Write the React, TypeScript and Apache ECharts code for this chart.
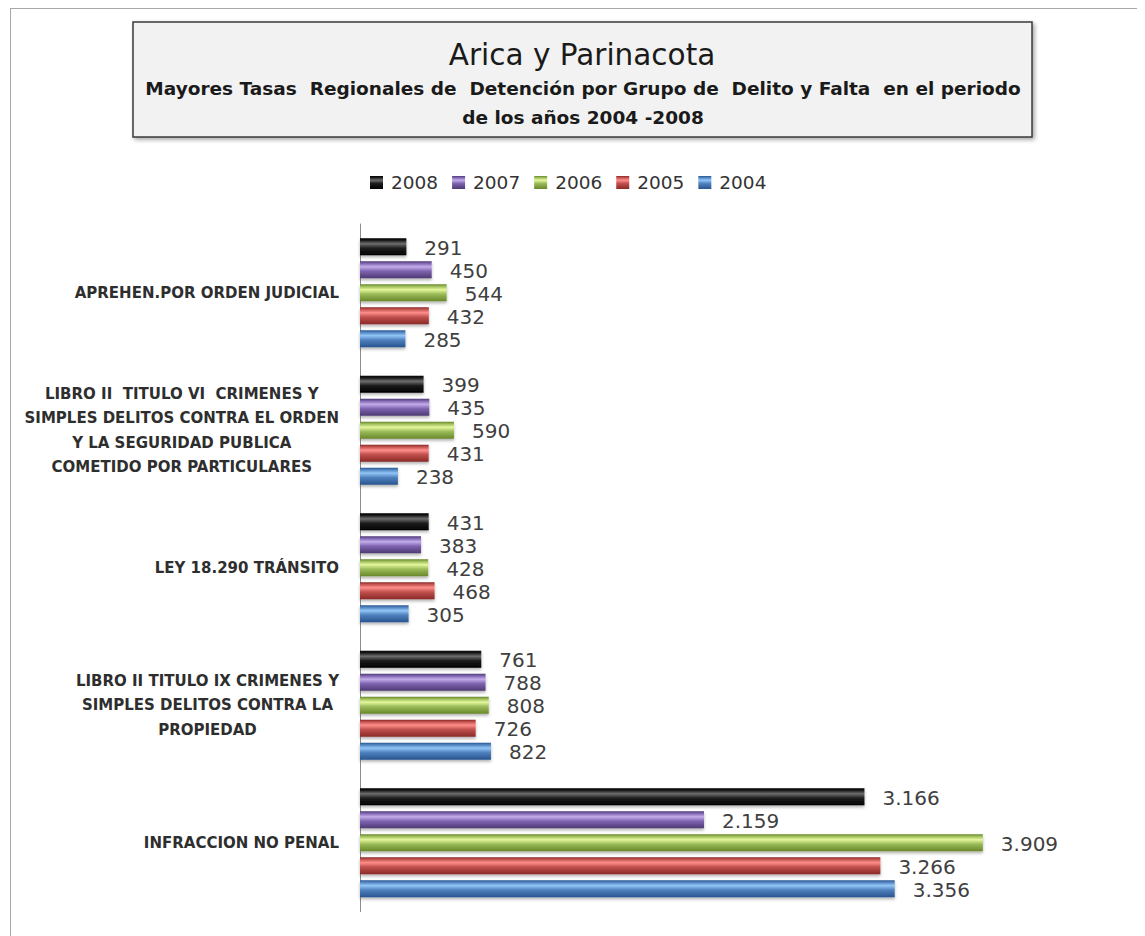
import React, { useEffect, useRef } from "react";
import * as echarts from "echarts";

const categories = [
  "APREHEN.POR ORDEN JUDICIAL",
  "LIBRO II  TITULO VI  CRIMENES Y\nSIMPLES DELITOS CONTRA EL ORDEN\nY LA SEGURIDAD PUBLICA\nCOMETIDO POR PARTICULARES",
  "LEY 18.290 TRÁNSITO",
  "LIBRO II TITULO IX CRIMENES Y\nSIMPLES DELITOS CONTRA LA\nPROPIEDAD",
  "INFRACCION NO PENAL",
];
const years = ["2008", "2007", "2006", "2005", "2004"];
const v2008 = [291, 399, 431, 761, 3166];
const v2007 = [450, 435, 383, 788, 2159];
const v2006 = [544, 590, 428, 808, 3909];
const v2005 = [432, 431, 468, 726, 3266];
const v2004 = [285, 238, 305, 822, 3356];
const values = [v2008, v2007, v2006, v2005, v2004];

const palette = [
  { dark: "#000000", base: "#1c1c1c", light: "#6e6e6e" },
  { dark: "#4d3a72", base: "#7f63b0", light: "#c3adea" },
  { dark: "#67872a", base: "#9bbb59", light: "#e4f79c" },
  { dark: "#892927", base: "#c0504d", light: "#ff8e8a" },
  { dark: "#295590", base: "#4f81bd", light: "#92c6f7" },
];

const titleMain = "Arica y Parinacota";
const titleSub1 = "Mayores Tasas  Regionales de  Detención por Grupo de  Delito y Falta  en el periodo";
const titleSub2 = "de los años 2004 -2008";

function fmt(v: number) {
  return String(v).replace(/\B(?=(\d{3})+(?!\d))/g, ".");
}

function grad(c: { dark: string; base: string; light: string }) {
  return new echarts.graphic.LinearGradient(0, 0, 0, 1, [
    { offset: 0, color: c.dark },
    { offset: 0.12, color: c.base },
    { offset: 0.32, color: c.light },
    { offset: 0.58, color: c.base },
    { offset: 1, color: c.dark },
  ]);
}

export default function App() {
  const ref = useRef<HTMLDivElement>(null);
  useEffect(() => {
    document.body.style.overflow = "hidden";
    const chart = echarts.init(ref.current!, null, { renderer: "svg" });
    const option: any = {
      animation: false,
      backgroundColor: "#ffffff",
      graphic: [
        {
          type: "rect",
          shape: { x: 122, y: 13, width: 899, height: 115 },
          style: {
            fill: "#f2f2f2",
            stroke: "#3a3a3a",
            lineWidth: 1.5,
            shadowBlur: 4,
            shadowOffsetX: 2,
            shadowOffsetY: 2,
            shadowColor: "rgba(0,0,0,0.35)",
          },
          z: 0,
        },
        {
          type: "text",
          x: 571,
          y: 46,
          style: {
            text: titleMain,
            textAlign: "center",
            textVerticalAlign: "middle",
            fontFamily: "DejaVu Sans",
            fontSize: 29.5,
            fill: "#1a1a1a",
          },
          z: 2,
        },
        {
          type: "text",
          x: 572,
          y: 79,
          style: {
            text: titleSub1,
            textAlign: "center",
            textVerticalAlign: "middle",
            fontFamily: "DejaVu Sans",
            fontWeight: "bold",
            fontSize: 18.5,
            fill: "#1a1a1a",
          },
          z: 2,
        },
        {
          type: "text",
          x: 572,
          y: 108,
          style: {
            text: titleSub2,
            textAlign: "center",
            textVerticalAlign: "middle",
            fontFamily: "DejaVu Sans",
            fontWeight: "bold",
            fontSize: 18.5,
            fill: "#1a1a1a",
          },
          z: 2,
        },
      ],
      legend: {
        data: years,
        left: 354,
        top: 159,
        icon: "rect",
        itemWidth: 13,
        itemHeight: 13,
        itemGap: 14,
        textStyle: { fontFamily: "DejaVu Sans", fontSize: 18.5, color: "#333333", padding: [0, 0, 0, 3] },
      },
      grid: { left: 349, top: 215, height: 687.5, width: 717, containLabel: false },
      xAxis: {
        type: "value",
        min: 0,
        max: 4500,
        show: false,
        splitLine: { show: false },
      },
      yAxis: {
        type: "category",
        data: categories,
        inverse: true,
        axisTick: { show: false },
        axisLine: { show: true, lineStyle: { color: "#8c8c8c", width: 1 } },
        axisLabel: {
          margin: 21,
          formatter: (v: string) => v.split("\n").map((l) => "{c|" + l + "}").join("\n"),
          rich: {
            c: {
              align: "center",
              fontFamily: "DejaVu Sans",
              fontWeight: "bold",
              fontSize: 15,
              color: "#2e2e2e",
              lineHeight: 24.5,
            },
          },
        },
      },
      series: years.map((y, i) => ({
        name: y,
        type: "bar",
        data: values[i],
        barWidth: 17,
        barGap: "35%",
        itemStyle: {
          color: grad(palette[i]),
          shadowBlur: 3,
          shadowOffsetY: 2,
          shadowColor: "rgba(0,0,0,0.3)",
        },
        label: {
          show: true,
          position: "right",
          distance: 18,
          offset: [0, 1],
          formatter: (p: any) => fmt(p.value),
          fontFamily: "DejaVu Sans",
          fontSize: 20,
          color: "#404040",
        },
      })),
    };
    chart.setOption(option);
    return () => chart.dispose();
  }, []);
  return (
    <div
      style={{
        marginLeft: 2,
        width: 1128,
        height: 940,
        border: "1px solid #a8a8a8",
        overflow: "hidden",
      }}
    >
      <div ref={ref} style={{ width: 1128, height: 940 }} />
    </div>
  );
}
